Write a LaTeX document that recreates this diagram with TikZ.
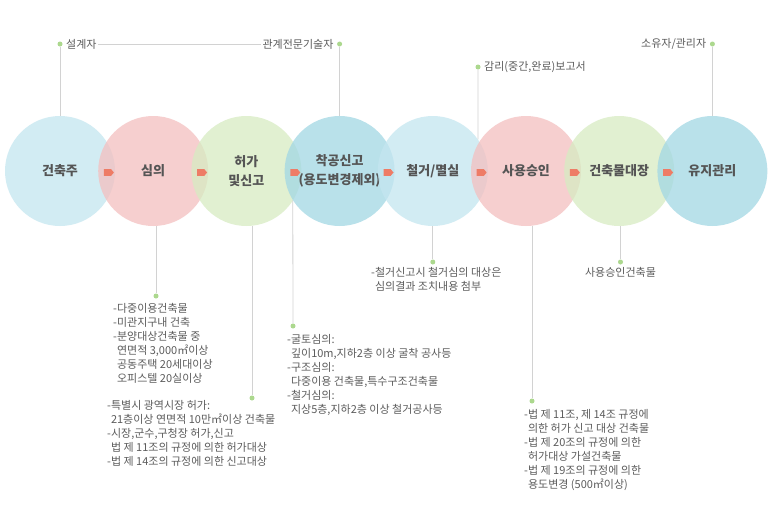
\documentclass[tikz,border=0pt]{standalone}
\usepackage{fontspec}
\setmainfont{Noto Sans CJK KR}
\usetikzlibrary{shapes.arrows}
\definecolor{cblue}{RGB}{196,230,240}
\definecolor{cpink}{RGB}{244,191,191}
\definecolor{cgreen}{RGB}{215,236,194}
\definecolor{cteal}{RGB}{162,215,228}
\definecolor{arrowc}{RGB}{238,124,102}
\definecolor{dotc}{RGB}{172,216,142}
\definecolor{linec}{RGB}{210,210,210}
\definecolor{labc}{RGB}{85,85,85}
\definecolor{txtc}{RGB}{92,92,92}
\begin{document}
\begin{tikzpicture}[x=1pt,y=-1pt,
  circ/.style={circle,minimum size=110pt,inner sep=0pt,fill opacity=0.75,text opacity=1,
    text=labc,align=center,font=\fontsize{13}{19}\selectfont\bfseries},
  flowarrow/.style={single arrow,fill=arrowc,draw=none,minimum height=10pt,minimum width=7pt,
    single arrow head extend=0.01pt,single arrow tip angle=100,inner sep=0pt},
  gdot/.style={circle,fill=dotc,minimum size=5pt,inner sep=0pt},
  conn/.style={draw=linec,line width=0.8pt},
  toplab/.style={font=\fontsize{11}{13}\selectfont,text=txtc,inner sep=1pt},
  block/.style={anchor=north west,align=left,inner sep=0pt,font=\fontsize{11}{14}\selectfont,text=txtc}
]
\useasboundingbox (0,0) rectangle (773,514);
\fill[white] (0,0) rectangle (773,514);

% circles
\node[circ,fill=cblue]  (c1) at (60,171)    {건축주};
\node[circ,fill=cpink]  (c2) at (153.2,171) {심의};
\node[circ,fill=cgreen] (c3) at (246.4,171) {허가\\및신고};
\node[circ,fill=cteal]  (c4) at (339.6,171) {착공신고\\(용도변경제외)};
\node[circ,fill=cblue]  (c5) at (432.8,171) {철거/멸실};
\node[circ,fill=cpink]  (c6) at (526,171)   {사용승인};
\node[circ,fill=cgreen] (c7) at (619.2,171) {건축물대장};
\node[circ,fill=cteal]  (c8) at (712.4,171) {유지관리};

% arrows between circles
\node[flowarrow] (a1) at (107.5,172.5) {};
\node[flowarrow] (a2) at (200.7,172.5) {};
\node[flowarrow] (a3) at (293.9,172.5) {};
\node[flowarrow] (a4) at (387.1,172.5) {};
\node[flowarrow] (a5) at (480.3,172.5) {};
\node[flowarrow] (a6) at (573.5,172.5) {};
\node[flowarrow] (a7) at (666.7,172.5) {};

% top labels
\node[gdot] (t1) at (60,44) {};
\node[toplab,anchor=west] (l1) at (65,44) {설계자};
\node[gdot] (t2) at (339.6,44) {};
\node[toplab,anchor=east] (l2) at (334.6,44) {관계전문기술자};
\node[gdot] (t3) at (478,67) {};
\node[toplab,anchor=west] (l3) at (483,67) {감리(중간,완료)보고서};
\node[gdot] (t4) at (712.4,44) {};
\node[toplab,anchor=east] (l4) at (707.4,44) {소유자/관리자};

\draw[conn] (l1.east) -- (l2.west);
\draw[conn] (t1) -- (c1.north);
\draw[conn] (t2) -- (c4.north);
\draw[conn] (t3) -- (c5.35);
\draw[conn] (t4) -- (c8.north);

% bottom dots
\node[gdot] (b1) at (156,296) {};
\node[gdot] (b2) at (252,398) {};
\node[gdot] (b3) at (293,326) {};
\node[gdot] (b4) at (432.8,262) {};
\node[gdot] (b5) at (532,401) {};
\node[gdot] (b6) at (620.5,262) {};

\draw[conn] (b1 |- c2.south) -- (b1);
\draw[conn] (b2 |- c3.south) -- (b2);
\draw[conn] (c4.212.1) -- (b3);
\draw[conn] (c5.south) -- (b4);
\draw[conn] (b5 |- c6.south) -- (b5);
\draw[conn] (b6 |- c7.south) -- (b6);

% text blocks
\node[block] (x1) at (113,303.5) {-다중이용건축물\\-미관지구내 건축\\-분양대상건축물 중\\\phantom{-}연면적 3,000㎡이상\\\phantom{-}공동주택 20세대이상\\\phantom{-}오피스텔 20실이상};
\node[block] (x2) at (107,400.5) {-특별시 광역시장 허가:\\\phantom{-}21층이상 연면적 10만㎡이상 건축물\\-시장,군수,구청장 허가,신고\\\phantom{-}법 제 11조의 규정에 의한 허가대상\\-법 제 14조의 규정에 의한 신고대상};
\node[block] (x3) at (287,334.5) {-굴토심의:\\\phantom{-}깊이10m,지하2층 이상 굴착 공사등\\-구조심의:\\\phantom{-}다중이용 건축물,특수구조건축물\\-철거심의:\\\phantom{-}지상5층,지하2층 이상 철거공사등};
\node[block] (x4) at (371,267.5) {-철거신고시 철거심의 대상은\\\phantom{-}심의결과 조치내용 첨부};
\node[block,anchor=north] (x5) at (620.5,267.5) {사용승인건축물};
\node[block] (x6) at (524,409.5) {-법 제 11조, 제 14조 규정에\\\phantom{-}의한 허가 신고 대상 건축물\\-법 제 20조의 규정에 의한\\\phantom{-}허가대상 가설건축물\\-법 제 19조의 규정에 의한\\\phantom{-}용도변경 (500㎡이상)};
\end{tikzpicture}
\end{document}
